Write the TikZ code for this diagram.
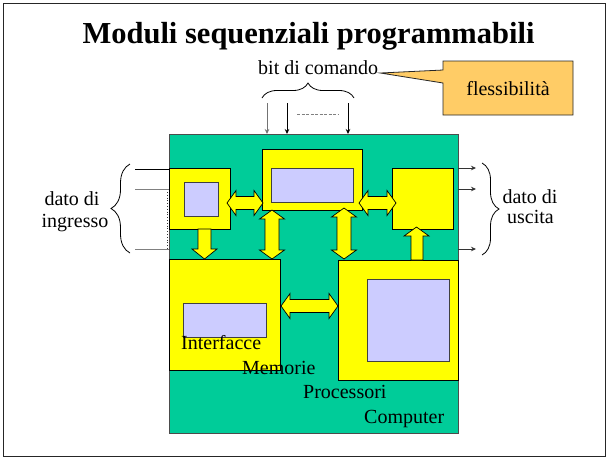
\documentclass[tikz,border=0pt]{standalone}
\usepackage{fontspec}
\setmainfont{Liberation Serif}
\usetikzlibrary{decorations.pathreplacing,calc,arrows.meta}
\definecolor{pgreen}{HTML}{00CC99}
\definecolor{pyellow}{HTML}{FFFF00}
\definecolor{plav}{HTML}{CCCCFF}
\definecolor{porange}{HTML}{FFCC66}
\newcommand{\boxat}[6]{\node[#6, anchor=north west, inner sep=0pt, minimum width={#4-#2}, minimum height={#5-#3}] (#1) at (#2,#3) {};}
% horizontal double block arrow: x1, x2, y
\newcommand{\harr}[3]{\filldraw[barrow] (#1,#3) -- ++(9,-12.5) -- ++(0,6) -- ($(#2,#3)+(-9,-6.5)$) -- ++(0,-6) -- (#2,#3) -- ++(-9,12.5) -- ++(0,-6) -- ($(#1,#3)+(9,6.5)$) -- ++(0,6) -- cycle;}
% vertical double block arrow: x, y1, y2
\newcommand{\varr}[3]{\filldraw[barrow] (#1,#2) -- ++(-12.5,9) -- ++(5.5,0) -- ($(#1,#3)+(-7,-9)$) -- ++(-5.5,0) -- (#1,#3) -- ++(12.5,-9) -- ++(-5.5,0) -- ($(#1,#2)+(7,9)$) -- ++(5.5,0) -- cycle;}
\begin{document}
\begin{tikzpicture}[x=1pt,y=-1pt,
  txt/.style={font=\fontsize{20}{22}\selectfont, inner sep=0pt, anchor=base west},
  ctxt/.style={font=\fontsize{20}{22}\selectfont, inner sep=0pt, anchor=base},
  gbox/.style={draw=black!70, fill=pgreen, line width=1pt},
  ybox/.style={draw=black, fill=pyellow, line width=0.9pt},
  lbox/.style={draw=black!75, fill=plav, line width=0.9pt},
  barrow/.style={draw=black, fill=pyellow, line width=0.7pt, line join=miter},
  sig/.style={line width=0.8pt, -{Stealth[length=5pt,width=4.5pt]}},
  wire/.style={line width=0.9pt},
  brc/.style={decorate, line width=0.8pt},
]
\useasboundingbox (0,0) rectangle (609,459);
\draw[line width=1.5pt, black!85] (3.5,3.5) rectangle (605.5,456.5);

\node[font=\fontsize{30.5}{34}\selectfont\bfseries, inner sep=0pt, anchor=base] (title) at (308.5,43) {Moduli sequenziali programmabili};

% main green block
\boxat{main}{169}{134}{458}{433}{gbox}

% boxes
\boxat{mid}{262}{149}{362}{210}{ybox}
\boxat{midin}{271}{168}{353}{202}{lbox}
\boxat{inb}{169}{168}{230}{229}{ybox}
\boxat{inbin}{184}{182}{218}{216}{lbox}
\boxat{outb}{392}{168}{453}{229}{ybox}
\boxat{mem}{169}{259}{280}{370}{ybox}
\boxat{memin}{183}{303}{266}{337}{lbox}
\boxat{proc}{338}{260}{458}{380}{ybox}
\boxat{procin}{367}{279}{449}{361}{lbox}

% block arrows
\harr{227}{263}{203}
\harr{359}{396}{203}
\harr{281}{338}{306}
\varr{272}{210}{259}
\varr{344}{208}{259}
% single down arrow
\filldraw[barrow] (198,229) -- (198,249) -- (192,249) -- (204.5,259) -- (217,249) -- (211,249) -- (211,229) -- cycle;
% single up arrow
\filldraw[barrow] (411,260) -- (411,236) -- (404,236) -- (416.5,227) -- (429,236) -- (423,236) -- (423,260) -- cycle;

% texts in green block
\node[txt] (t1) at (181,349) {Interfacce};
\node[txt] (t2) at (242,374) {Memorie};
\node[txt] (t3) at (303,398) {Processori};
\node[txt] (t4) at (364,423) {Computer};

% input wires
\coordinate (i1) at (135,169);
\coordinate (i2) at (135,189);
\coordinate (i3) at (135,249);
\draw[wire, black] (i1) -- (169,169);
\draw[wire, black!50] (i2) -- (169,189);
\draw[wire, black!50] (i3) -- (169,249);
\draw[line width=0.8pt, black!80, dotted] (167,192) -- (167,249);
\draw[brc, decoration={brace, amplitude=19pt}] (130,253) -- (130,164);
\node[ctxt] (din1) at (72,205) {dato di};
\node[ctxt] (din2) at (75,227) {ingresso};

% output wires
\draw[sig, black!80] (458,168) -- (476,168);
\draw[sig, black!80] (458,189) -- (476,189);
\draw[sig, black!80] (458,249) -- (476,249);
\draw[brc, decoration={brace, amplitude=17pt}] (482,163) -- (482,255);
\node[ctxt] (dout1) at (530,203) {dato di};
\node[ctxt] (dout2) at (530.5,223) {uscita};

% command bits
\draw[sig, black!55] (267,103) -- (267,134);
\draw[sig, black] (287,103) -- (287,134);
\draw[sig, black] (348,103) -- (348,134);
\draw[line width=0.9pt, black!50, dashed, dash pattern=on 3pt off 1.5pt] (297,114) -- (339,114);
\draw[brc, decoration={brace, amplitude=15pt}] (262,98) -- (354,98);
\node[txt] (cmd) at (258,74) {bit di comando};

% callout
\coordinate (tip) at ($(cmd.base east)+(2,-1)$);
\filldraw[fill=porange, draw=black!85, line width=0.8pt, line join=miter] (443,61) -- (573,61) -- (573,115) -- (443,115) -- (443,83) -- (tip) -- (443,70) -- cycle;
\node[ctxt] (flex) at (508,95) {flessibilità};
\end{tikzpicture}
\end{document}
